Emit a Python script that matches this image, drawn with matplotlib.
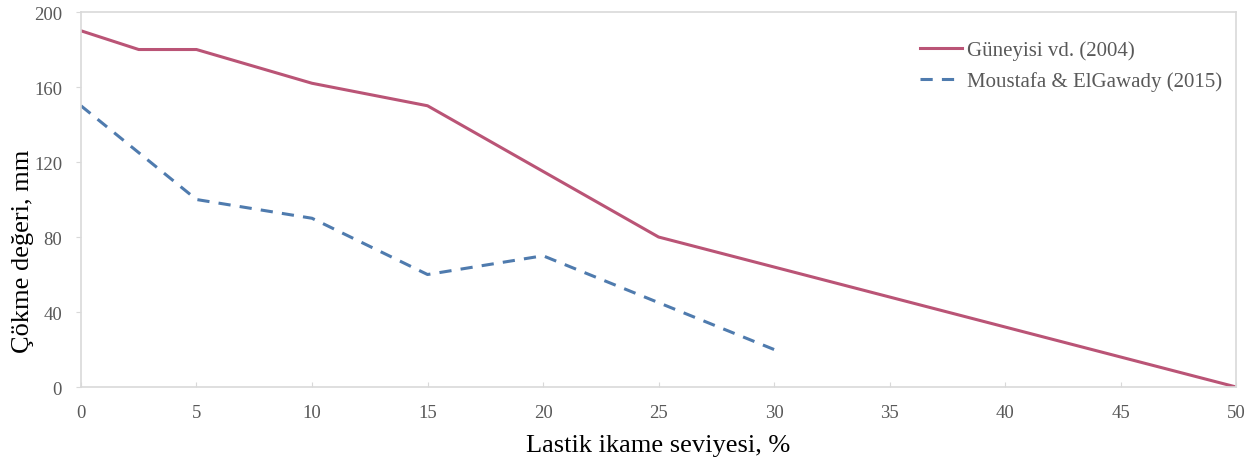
import matplotlib.pyplot as plt

plt.rcParams['font.family'] = ['Liberation Serif', 'DejaVu Serif']

x_guneyisi = [0, 2.5, 5, 10, 15, 25, 50]
y_guneyisi = [190, 180, 180, 162, 150, 80, 0]

x_moustafa = [0, 2.5, 5, 10, 15, 20, 25, 30]
y_moustafa = [150, 125, 100, 90, 60, 70, 45, 20]

xticks = list(range(0, 55, 5))
yticks = list(range(0, 240, 40))

fig = plt.figure(figsize=(12.55, 4.6), dpi=100)
ax = fig.add_axes([0.0645, 0.1565, 0.9205, 0.8152])

ax.plot(x_guneyisi, y_guneyisi, color='#BA5476', lw=2.2, label='Güneyisi vd. (2004)')
ax.plot(x_moustafa, y_moustafa, color='#4F7BAE', lw=2.2, ls=(0, (4, 3)),
        label='Moustafa & ElGawady (2015)')

ax.set_xlim(0, 50)
ax.set_ylim(0, 200)
ax.set_xticks(xticks)
ax.set_yticks(yticks)
for s in ax.spines.values():
    s.set_color('#D9D9D9')
    s.set_linewidth(1.2)
ax.tick_params(axis='x', direction='in', length=3.6, color='#D9D9D9', labelsize=13.5,
               labelcolor='#595959', pad=12)
ax.tick_params(axis='y', direction='out', length=3.6, color='#D9D9D9', labelsize=13.5,
               labelcolor='#595959', pad=10)

ax.set_xlabel('Lastik ikame seviyesi, %', fontsize=19)
ax.xaxis.set_label_coords(0.5, -0.125)
ax.set_ylabel('Çökme değeri, mm', fontsize=19)
ax.yaxis.set_label_coords(-0.041, 0.365)

ax.legend(loc='upper right', bbox_to_anchor=(1.004, 0.975), frameon=False, fontsize=15,
          handlelength=2.0, handletextpad=0.25, labelspacing=0.55, labelcolor='#595959')

fig.savefig('out.png', dpi=100)
